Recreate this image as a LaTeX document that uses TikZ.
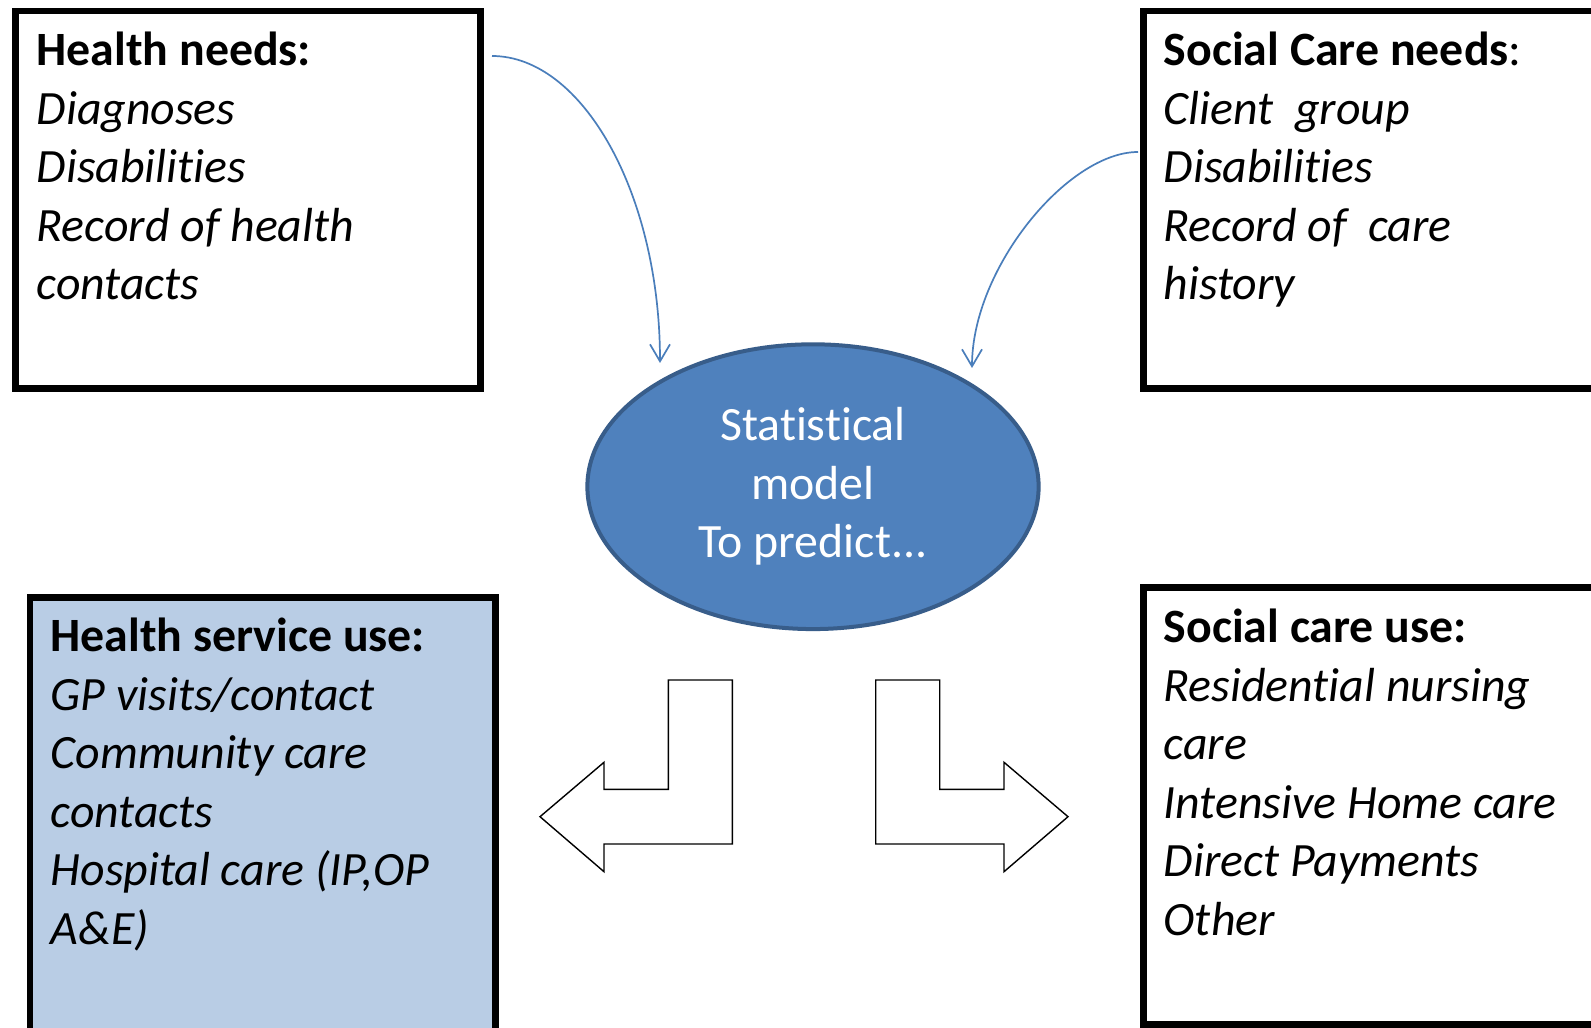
\documentclass[tikz,border=0pt]{standalone}
\usepackage{fontspec}
\setmainfont{Carlito}[Ligatures=NoCommon]
\usepackage{xcolor}
\usepackage{tikz}
\usetikzlibrary{shapes.geometric, arrows.meta}
\definecolor{modelblue}{HTML}{4F81BD}
\definecolor{modeledge}{HTML}{385D8A}
\definecolor{usefill}{HTML}{B9CDE5}
\definecolor{linkblue}{HTML}{4A7EBB}
\newcommand{\boxfont}{\fontsize{13.6}{16.64}\selectfont}
\tikzstyle{needbox} = [rectangle, draw=black, line width=0.065cm, inner sep=0pt, anchor=north west]
\tikzstyle{itemtext} = [anchor=base west, align=left, inner sep=0pt, font=\boxfont]
\tikzstyle{model} = [ellipse, draw=modeledge, line width=0.04cm, fill=modelblue, text=white, minimum width=4.51cm, minimum height=2.846cm, align=center, font=\boxfont]
\tikzstyle{link} = [draw=linkblue, line width=0.017cm, -{Straight Barb[length=0.17cm, width=0.2cm]}]
\tikzstyle{bent} = [draw=black, line width=0.014cm, fill=white, line join=miter]

\begin{document}
\begin{tikzpicture}[x=0.01cm, y=-0.01cm]
    \useasboundingbox (0,0) rectangle (1591,1028);
    \fill [white] (0,0) rectangle (1591,1028);
    % the four boxes
    \node (hneeds) [needbox, minimum width=4.65cm, minimum height=3.77cm] at (12,8) {};
    \node (sneeds) [needbox, minimum width=5cm, minimum height=3.77cm] at (1140,8) {};
    \node (huse) [needbox, fill=usefill, minimum width=4.655cm, minimum height=5cm] at (26.5,594) {};
    \node (suse) [needbox, minimum width=5cm, minimum height=4.37cm] at (1140,584) {};
    % box texts, placed by the baseline of their last line
    \node (hneedstext) [itemtext] at (36,299.7) {\textbf{Health needs:}\\ \textit{Diagnoses}\\ \textit{Disabilities}\\ \textit{Record of health}\\ \textit{contacts}};
    \node (sneedstext) [itemtext] at (1163,299.7) {\textbf{Social Care needs}:\\ \textit{Client\ \ group}\\ \textit{Disabilities}\\ \textit{Record of\ \ care}\\ \textit{history}};
    \node (husetext) [itemtext] at (50,944.2) {\textbf{Health service use:}\\ \textit{GP visits/contact}\\ \textit{Community care}\\ \textit{contacts}\\ \textit{Hospital care (IP,OP}\\ \textit{A\&E)}};
    \node (susetext) [itemtext] at (1163,935.2) {\textbf{Social care use:}\\ \textit{Residential nursing}\\ \textit{care}\\ \textit{Intensive Home care}\\ \textit{Direct Payments}\\ \textit{Other}};
    % model in the middle
    \node (model) [model] at (813,486.7) {Statistical\\model\\To predict...};
    % curved links into the model
    \coordinate (hout) at (492,56);
    \coordinate (hin) at (660,363);
    \coordinate (sout) at (1138,152);
    \coordinate (sin) at (972,368);
    \draw [link] (hout) .. controls +(90,0) and +(0,-170) .. (hin);
    \draw [link] (sout) .. controls +(-70,0) and +(0,-100) .. (sin);
    % bent arrows out of the model
    \draw [bent] (732.3,680) -- (732.3,844) -- (604,844) -- (604,871.7) -- (540,816.7) -- (604,762.3) -- (604,789.3) -- (668.3,789.3) -- (668.3,680) -- cycle;
    \draw [bent] (875.7,680) -- (875.7,844) -- (1004,844) -- (1004,871.7) -- (1068,816.7) -- (1004,762.3) -- (1004,789.3) -- (939.7,789.3) -- (939.7,680) -- cycle;
\end{tikzpicture}
\end{document}
